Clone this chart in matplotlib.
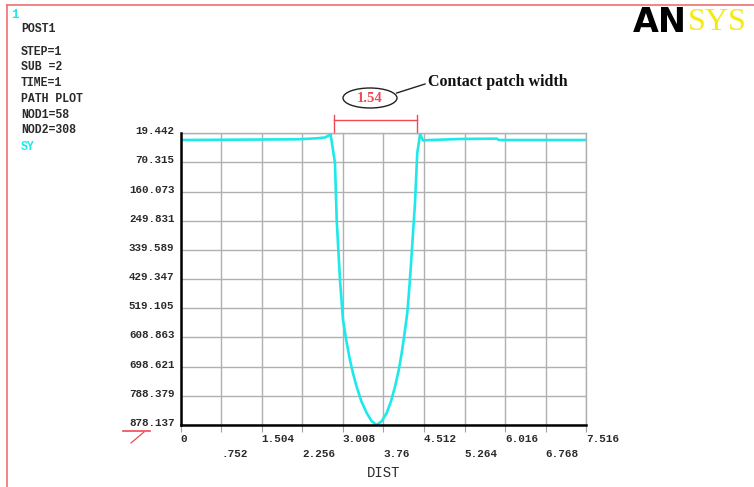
import numpy as np
import matplotlib.pyplot as plt
from matplotlib.lines import Line2D
from matplotlib.patches import Ellipse
from matplotlib.transforms import ScaledTranslation, blended_transform_factory

# Path plot of SY along the contact path
dist = [0.0, 2.175, 2.522, 2.676, 2.78, 2.861, 2.893, 2.954, 3.010, 3.075, 3.139, 3.20,
        3.264, 3.35, 3.449, 3.54, 3.634, 3.73, 3.820, 3.90, 3.973, 4.04, 4.098, 4.15,
        4.202, 4.245, 4.284, 4.345, 4.387, 4.44, 4.493, 4.623, 5.20, 5.86, 5.90, 7.516]
sy = [-1.2, 1.0, 4.0, 6.5, 16.0, -72.0, -247.0, -432.0, -555.0, -622.0, -678.0, -722.0,
      -761.0, -805.0, -841.0, -866.0, -878.137, -866.0, -841.0, -805.0, -761.0, -712.0,
      -657.0, -598.0, -533.0, -445.0, -349.0, -195.0, -41.0, 17.0, -2.5, -1.2, 2.0, 3.0,
      -1.2, -1.2]

x_ticks = [0, 0.752, 1.504, 2.256, 3.008, 3.76, 4.512, 5.264, 6.016, 6.768, 7.516]
x_labels = ["0", ".752", "1.504", "2.256", "3.008", "3.76", "4.512", "5.264", "6.016", "6.768", "7.516"]
y_labels = ["19.442", "70.315", "160.073", "249.831", "339.589", "429.347",
            "519.105", "608.863", "698.621", "788.379", "878.137"]
y_top, y_bot = 19.442, -878.137
y_ticks = np.linspace(y_top, y_bot, len(y_labels))

info_lines = ["STEP=1", "SUB =2", "TIME=1", "PATH PLOT", "NOD1=58", "NOD2=308"]

contact_center = 3.61
contact_width = 1.54

TXT = "#2a2a2a"
CYAN = "#1ee8ea"
RED = "#ee4a55"
GRID = "#b0b0b0"
MONO = "Liberation Mono"
W, H = 754, 487

fig = plt.figure(figsize=(W / 100, H / 100), dpi=100)
ax = fig.add_axes([180.7 / W, 1 - 425 / H, (586 - 180.7) / W, (425 - 133.3) / H])

ax.plot(dist, sy, color=CYAN, lw=1.9, zorder=3, solid_joinstyle="round")
ax.set_xlim(0, 7.516)
ax.set_ylim(y_bot, y_top)

# alternating two-row x labels: even ticks on the first row, odd ones below
ax.set_xticks(x_ticks[0::2])
ax.set_xticklabels(x_labels[0::2])
ax.set_xticks(x_ticks[1::2], minor=True)
ax.set_xticklabels(x_labels[1::2], minor=True)
ax.tick_params(axis="x", which="major", direction="out", length=5, width=0.8,
               color="#a0a0a0", pad=1.2, labelsize=7.9, labelcolor=TXT)
ax.tick_params(axis="x", which="minor", direction="out", length=5, width=0.8,
               color="#a0a0a0", pad=12, labelsize=7.9, labelcolor=TXT)
for lbl in ax.get_xticklabels(which="both"):
    lbl.set_ha("left")
    lbl.set_fontfamily(MONO)
    lbl.set_fontweight("bold")

ax.set_yticks(y_ticks)
ax.set_yticklabels(y_labels)
ax.tick_params(axis="y", length=0, pad=4.5, labelsize=7.8, labelcolor=TXT)
lift = ScaledTranslation(0, 0.03, fig.dpi_scale_trans)
for lbl in ax.get_yticklabels():
    lbl.set_fontfamily(MONO)
    lbl.set_fontweight("bold")
    lbl.set_transform(lbl.get_transform() + lift)

ax.grid(True, which="both", color=GRID, lw=1.0, zorder=1)
ax.set_axisbelow(True)
for side in ("top", "right"):
    ax.spines[side].set_color(GRID)
    ax.spines[side].set_linewidth(1.0)
for side in ("left", "bottom"):
    ax.spines[side].set_color("black")
    ax.spines[side].set_linewidth(1.8)
    ax.spines[side].set_zorder(4)

ax.set_xlabel("DIST", fontsize=10, family=MONO, color=TXT)
ax.xaxis.set_label_coords(0.5, -0.165)
ax.xaxis.label.set_va("center")

# contact width bracket above the plot
bt = blended_transform_factory(ax.transData, ax.transAxes)
x0 = contact_center - contact_width / 2
x1 = contact_center + contact_width / 2
ax.plot([x0, x1], [1.0456, 1.0456], color=RED, lw=1.0, transform=bt, clip_on=False)
for xe in (x0, x1):
    ax.plot([xe, xe], [1.0, 1.063], color=RED, lw=1.0, transform=bt, clip_on=False)

fig.patches.append(Ellipse((370 / W, 1 - 98 / H), 54 / W, 20 / H, transform=fig.transFigure,
                           facecolor="none", edgecolor="#222222", lw=1.0))
fig.text(370 / W, 1 - 98 / H, f"{contact_width:.2f}", color=RED, fontsize=10.5,
         family="Liberation Serif", weight="bold", ha="center", va="center")
fig.add_artist(Line2D([396.7 / W, 425 / W], [1 - 93 / H, 1 - 84 / H], color="#222222", lw=1.0))
fig.text(428 / W, 1 - 81.5 / H, "Contact patch width", color="#111111", fontsize=11.5,
         family="Liberation Serif", weight="bold", ha="left", va="center")

# header block on the left
fig.text(11 / W, 1 - 15 / H, "1", color=CYAN, fontsize=9, family=MONO, weight="bold",
         ha="left", va="center")
fig.text(21 / W, 1 - 29 / H, "POST1", color=TXT, fontsize=8.3, family=MONO, weight="bold",
         ha="left", va="center")
for i, line in enumerate(info_lines):
    fig.text(21 / W, 1 - (51.7 + i * 15.7) / H, line, color=TXT, fontsize=8.3, family=MONO,
             weight="bold", ha="left", va="center")
fig.text(21 / W, 1 - 147 / H, "SY", color=CYAN, fontsize=8.3, family=MONO, weight="bold",
         ha="left", va="center")

# logo
fig.text(633 / W, 1 - 23 / H, "AN", color="black", fontsize=24, family="DejaVu Sans",
         weight="heavy", ha="left", va="center")
fig.text(688 / W, 1 - 23 / H, "SYS", color="#f5ea10", fontsize=23, family="Liberation Serif",
         ha="left", va="center")

# red window frame
fig.add_artist(Line2D([7 / W, 1.0], [1 - 5 / H, 1 - 5 / H], color="#f07070", lw=1.2))
fig.add_artist(Line2D([7 / W, 7 / W], [0.0, 1 - 5 / H], color="#f07070", lw=1.2))

# small red marker under the lowest y label
fig.add_artist(Line2D([123 / W, 150 / W], [1 - 430.7 / H, 1 - 430.7 / H], color=RED, lw=1.2))
fig.add_artist(Line2D([131 / W, 144 / W], [1 - 443 / H, 1 - 432 / H], color=RED, lw=0.9))

fig.savefig("out.png", dpi=100)
